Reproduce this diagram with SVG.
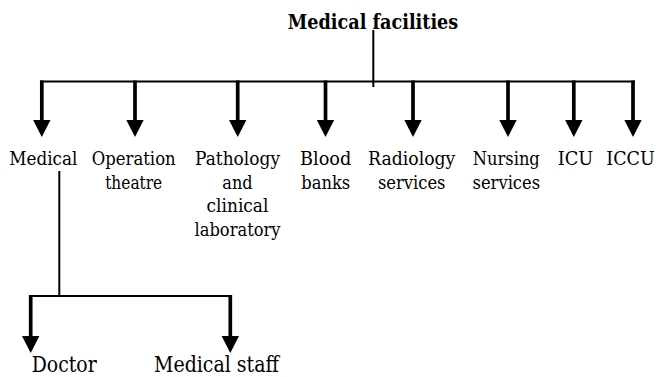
<svg xmlns="http://www.w3.org/2000/svg" width="658" height="377" viewBox="0 0 658 377">
  <style>
    .title, .lbl, .sub { font-family: 'DejaVu Serif', serif; fill: #000; }
    .title { font-size: 19.6px; font-weight: bold; text-anchor: middle; }
    .lbl { font-size: 19.2px; text-anchor: middle; }
    .sub { font-size: 21.5px; }
    .thin { stroke: #000; stroke-width: 2; fill: none; }
    .shaft { stroke: #000; stroke-width: 3.7; fill: none; marker-end: url(#head); }
  </style>
  <defs>
    <marker id="head" markerUnits="userSpaceOnUse" markerWidth="18" markerHeight="18" refX="0" refY="8.7" orient="auto" overflow="visible">
      <path d="M0,0 L17,8.7 L0,17.4 Z" fill="#000"/>
    </marker>
  </defs>

  <rect width="658" height="377" fill="#fff"/>

  <g id="connectors">
    <!-- trunk from the root title down to the bus -->
    <line class="thin" x1="373.3" y1="30" x2="373.3" y2="87"/>
    <!-- upper bus -->
    <line class="thin" x1="40" y1="81.5" x2="635" y2="81.5"/>
    <!-- branches to each facility -->
    <line class="shaft" x1="41.8" y1="80.5" x2="41.8" y2="120"/>
    <line class="shaft" x1="135" y1="80.5" x2="135" y2="120"/>
    <line class="shaft" x1="237.7" y1="80.5" x2="237.7" y2="120"/>
    <line class="shaft" x1="325.5" y1="80.5" x2="325.5" y2="120"/>
    <line class="shaft" x1="413" y1="80.5" x2="413" y2="120"/>
    <line class="shaft" x1="508" y1="80.5" x2="508" y2="120"/>
    <line class="shaft" x1="573.8" y1="80.5" x2="573.8" y2="120"/>
    <line class="shaft" x1="633" y1="80.5" x2="633" y2="120"/>
    <!-- Medical sub-branch -->
    <line class="thin" x1="59.3" y1="171" x2="59.3" y2="296"/>
    <line class="thin" x1="29" y1="296" x2="232" y2="296"/>
    <line class="shaft" x1="30.7" y1="295" x2="30.7" y2="336"/>
    <line class="shaft" x1="230.3" y1="295" x2="230.3" y2="336"/>
  </g>

  <g id="medical-facilities">
    <text class="title" x="373" y="29" textLength="170.5" lengthAdjust="spacingAndGlyphs">Medical facilities</text>
  </g>

  <g id="medical">
    <text class="lbl" x="43.3" y="165" textLength="68" lengthAdjust="spacingAndGlyphs">Medical</text>
  </g>
  <g id="operation-theatre">
    <text class="lbl" x="133.7" y="165" textLength="84" lengthAdjust="spacingAndGlyphs">Operation</text>
    <text class="lbl" x="133.7" y="188.5" textLength="57" lengthAdjust="spacingAndGlyphs">theatre</text>
  </g>
  <g id="pathology">
    <text class="lbl" x="237.5" y="165" textLength="85" lengthAdjust="spacingAndGlyphs">Pathology</text>
    <text class="lbl" x="237.5" y="188.5" textLength="30.3" lengthAdjust="spacingAndGlyphs">and</text>
    <text class="lbl" x="237.5" y="212" textLength="61.8" lengthAdjust="spacingAndGlyphs">clinical</text>
    <text class="lbl" x="237.5" y="235.5" textLength="86" lengthAdjust="spacingAndGlyphs">laboratory</text>
  </g>
  <g id="blood-banks">
    <text class="lbl" x="325.7" y="165" textLength="51.3" lengthAdjust="spacingAndGlyphs">Blood</text>
    <text class="lbl" x="325.7" y="188.5" textLength="49" lengthAdjust="spacingAndGlyphs">banks</text>
  </g>
  <g id="radiology-services">
    <text class="lbl" x="411.7" y="165" textLength="87.3" lengthAdjust="spacingAndGlyphs">Radiology</text>
    <text class="lbl" x="411.7" y="188.5" textLength="67.6" lengthAdjust="spacingAndGlyphs">services</text>
  </g>
  <g id="nursing-services">
    <text class="lbl" x="506.3" y="165" textLength="67" lengthAdjust="spacingAndGlyphs">Nursing</text>
    <text class="lbl" x="506.3" y="188.5" textLength="67.6" lengthAdjust="spacingAndGlyphs">services</text>
  </g>
  <g id="icu">
    <text class="lbl" x="575.5" y="165" textLength="35.5" lengthAdjust="spacingAndGlyphs">ICU</text>
  </g>
  <g id="iccu">
    <text class="lbl" x="630.5" y="165" textLength="48.5" lengthAdjust="spacingAndGlyphs">ICCU</text>
  </g>

  <g id="doctor">
    <text class="sub" x="31.7" y="372" textLength="65" lengthAdjust="spacingAndGlyphs">Doctor</text>
  </g>
  <g id="medical-staff">
    <text class="sub" x="154" y="372" textLength="125" lengthAdjust="spacingAndGlyphs">Medical staff</text>
  </g>
</svg>
